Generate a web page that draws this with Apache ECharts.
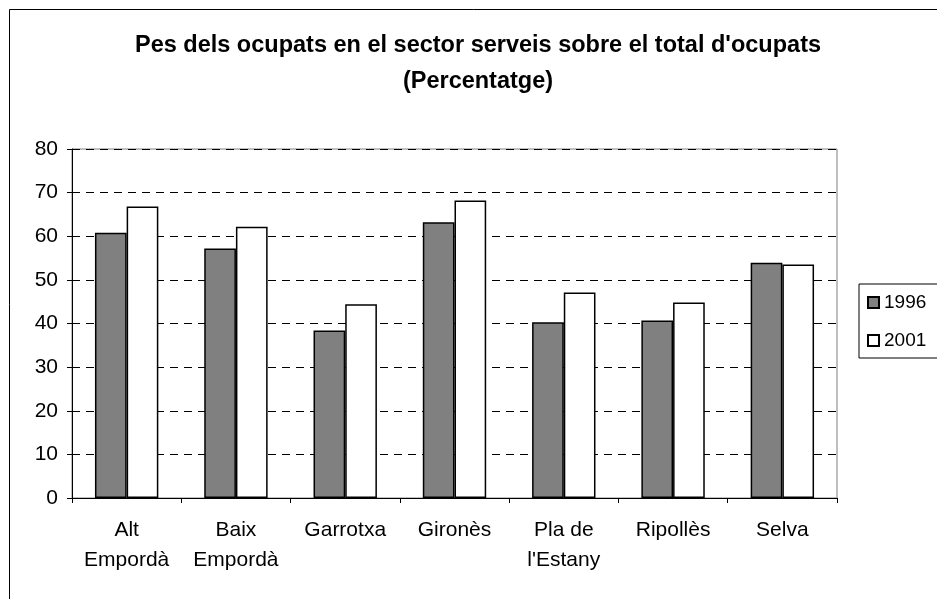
<!DOCTYPE html>
<html>
<head>
<meta charset="utf-8">
<script src="https://cdn.jsdelivr.net/npm/echarts@6/dist/echarts.min.js"></script>
<style>html,body{margin:0;padding:0;background:#fff;}#c{width:937px;height:599px;}</style>
</head>
<body>
<div id="c"></div>
<script>
const categories = ['Alt\nEmpordà', 'Baix\nEmpordà', 'Garrotxa', 'Gironès', 'Pla de\nl\'Estany', 'Ripollès', 'Selva'];
const values1996 = [60.8, 57.2, 38.4, 63.2, 40.3, 40.7, 53.9];
const values2001 = [66.8, 62.2, 44.4, 68.2, 47.1, 44.8, 53.5];
const seriesNames = ['1996', '2001'];
const yTicks = {min: 0, max: 80, interval: 10};

const chart = echarts.init(document.getElementById('c'), null, {renderer: 'canvas'});
const font = 'Arial, "Liberation Sans", sans-serif';
chart.setOption({
  animation: false,
  backgroundColor: '#fff',
  title: {
    text: 'Pes dels ocupats en el sector serveis sobre el total d\'ocupats\n(Percentatge)',
    left: 473, top: 23, textAlign: 'center',
    textStyle: {fontFamily: font, fontSize: 23.5, fontWeight: 'bold', color: '#000', lineHeight: 36}
  },
  graphic: [{
    type: 'rect', shape: {x: 9.5, y: 9.5, width: 960, height: 620},
    style: {fill: 'none', stroke: '#000', lineWidth: 1}, silent: true, z: -1
  }, {
    type: 'rect', shape: {x: 72, y: 149, width: 765, height: 349},
    style: {fill: 'none', stroke: '#808080', lineWidth: 1}, silent: true, z: -1
  }],
  legend: {
    orient: 'vertical', left: 859, top: 284,
    itemWidth: 11, itemHeight: 11, itemGap: 19, icon: 'rect',
    padding: [9, 30, 8, 8],
    borderColor: '#000', borderWidth: 1, backgroundColor: '#fff',
    textStyle: {fontFamily: font, fontSize: 19, color: '#000', padding: [0, 0, 0, 0]},
    data: seriesNames
  },
  grid: {left: 72, right: 100, top: 149, bottom: 101, containLabel: false},
  xAxis: {
    type: 'category', data: categories,
    axisLine: {lineStyle: {color: '#000', width: 1}},
    axisTick: {show: true, length: 5, inside: false, lineStyle: {color: '#000'}},
    axisLabel: {fontFamily: font, fontSize: 21, color: '#000', margin: 17, lineHeight: 30, interval: 0}
  },
  yAxis: {
    type: 'value', min: yTicks.min, max: yTicks.max, interval: yTicks.interval,
    axisLine: {show: true, lineStyle: {color: '#000', width: 1}},
    axisTick: {show: true, length: 5, lineStyle: {color: '#000'}},
    axisLabel: {fontFamily: font, fontSize: 21, color: '#000', margin: 14},
    splitLine: {show: true, lineStyle: {color: '#000', type: [8, 6], width: 1}}
  },
  series: [{
    name: seriesNames[0], type: 'bar', data: values1996,
    barGap: '0%', barCategoryGap: '42%',
    itemStyle: {color: '#808080', borderColor: '#000', borderWidth: 1.5}
  }, {
    name: seriesNames[1], type: 'bar', data: values2001,
    barGap: '0%', barCategoryGap: '42%',
    itemStyle: {color: '#fff', borderColor: '#000', borderWidth: 1.5}
  }]
});
</script>
</body>
</html>
